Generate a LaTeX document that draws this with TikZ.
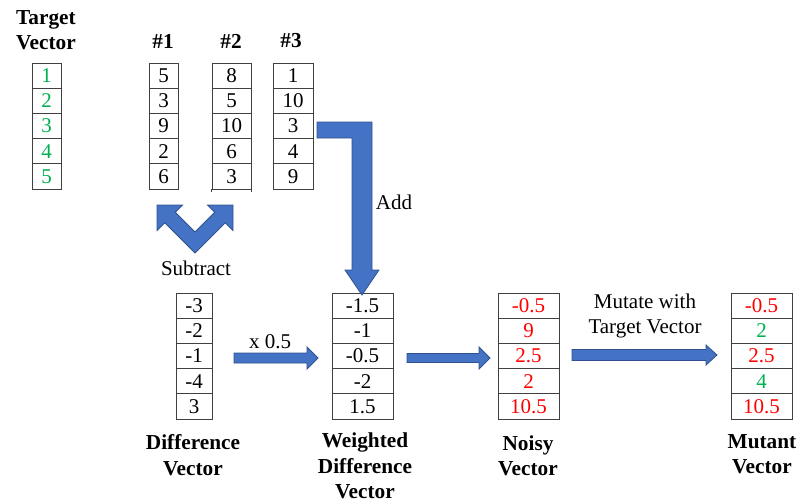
\documentclass[tikz,border=0pt]{standalone}
\usepackage{fontspec}
\setmainfont{Liberation Serif}
\definecolor{tgreen}{HTML}{00B050}
\definecolor{tred}{HTML}{FF0000}
\definecolor{abfill}{HTML}{4472C4}
\definecolor{abdraw}{HTML}{2F528F}
\newcommand\vcol[5]{%
  \foreach [count=\i] \v/\c in {#5} {
    \node[cell, minimum width={(#3-#2)*1pt}, text=\c] (#1\i) at ({(#2+#3)/2},{#4+(\i-0.5)*25.2}) {\v};
  }}
\begin{document}
\begin{tikzpicture}[x=1pt,y=-1pt,
  cell/.style={draw=black!75, line width=0.9pt, minimum height=25.2pt, inner sep=0pt,
    font=\fontsize{21}{22}\selectfont},
  ttl/.style={font=\fontsize{21.3}{25.5}\selectfont\bfseries, align=center},
  lbl/.style={font=\fontsize{21}{25.5}\selectfont, align=center},
  blk/.style={fill=abfill, draw=abdraw, line width=0.8pt}]
\useasboundingbox (0,0) rectangle (799,503);

% vectors
\vcol{t}{32}{61}{63}{1/tgreen,2/tgreen,3/tgreen,4/tgreen,5/tgreen}
\vcol{a}{149}{178}{63}{5/black,3/black,9/black,2/black,6/black}
\vcol{b}{212}{251}{63}{8/black,5/black,10/black,6/black,3/black}
\vcol{c}{273}{313}{63}{1/black,10/black,3/black,4/black,9/black}
\vcol{d}{176}{212}{293}{-3/black,-2/black,-1/black,-4/black,3/black}
\vcol{w}{332}{393}{293}{-1.5/black,-1/black,-0.5/black,-2/black,1.5/black}
\vcol{n}{498}{559}{293}{-0.5/tred,9/tred,2.5/tred,2/tred,10.5/tred}
\vcol{m}{731}{792}{293}{-0.5/tred,2/tgreen,2.5/tred,4/tgreen,10.5/tred}
\draw[black!75, line width=0.9pt] (b5.south west) -- ++(0,2.5) (b5.south east) -- ++(0,2.5);

% titles
\node[ttl] (tt) at (46,30) {Target\\Vector};
\node[ttl] (h1) at (163,41) {\#1};
\node[ttl] (h2) at (231,41) {\#2};
\node[ttl] (h3) at (291,41) {\#3};
\node[ttl] (dl) at (193,455) {Difference\\Vector};
\node[ttl] (wl) at (365,466) {Weighted\\Difference\\Vector};
\node[ttl] (nl) at (528,456) {Noisy\\Vector};
\node[ttl] (ml) at (762,454) {Mutant\\Vector};

% labels
\node[lbl] (sub) at (196,268) {Subtract};
\node[lbl] (add) at (394,202) {Add};
\node[lbl] (x05) at (270,342) {x 0.5};
\node[lbl] (mut) at (645,316) {Mutate with\\Target Vector};

% block arrows
\filldraw[blk] (317,122) -- (372,122) -- (372,270) -- (379,270) -- (362,295)
  -- (345,270) -- (352,270) -- (352,138) -- (317,138) -- cycle;
\filldraw[blk] (195,253) -- (164.75,222.75) -- (157,230.5) -- (157,205) -- (182.5,205)
  -- (175.25,212.25) -- (195,232) -- (214.75,212.25) -- (207.5,205) -- (233,205)
  -- (233,230.5) -- (225.25,222.75) -- cycle;
\filldraw[blk] (234,353) -- (307,353) -- (307,347) -- (318,358) -- (307,369)
  -- (307,363) -- (234,363) -- cycle;
\filldraw[blk] (407,353.5) -- (479,353.5) -- (479,347) -- (490,358) -- (479,369)
  -- (479,362.5) -- (407,362.5) -- cycle;
\filldraw[blk] (572,349.5) -- (706,349.5) -- (706,345) -- (717,355) -- (706,365)
  -- (706,360.5) -- (572,360.5) -- cycle;
\end{tikzpicture}
\end{document}
